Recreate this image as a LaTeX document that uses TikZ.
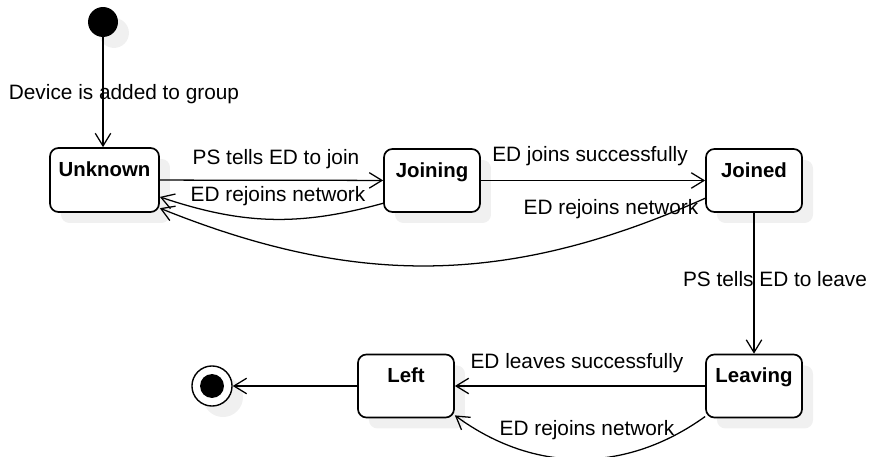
\documentclass[tikz,border=0pt]{standalone}
\usepackage{fontspec}
\setmainfont{Liberation Sans}
\usetikzlibrary{arrows.meta,calc,shadows}
\definecolor{shadowgrey}{RGB}{240,240,240}
\tikzset{
  flow/.style={-{Straight Barb[length=9pt,width=11pt]},line width=0.9pt},
  boxshadow/.style={drop shadow={shadow xshift=7.8pt,shadow yshift=-7.8pt,
                    fill=shadowgrey,opacity=1}},
  phase/.style={draw=black,line width=1.2pt,fill=white,rounded corners=6pt,boxshadow,
                minimum width=68.3pt,inner sep=0pt,text height=20pt,text depth=24.8pt,
                font=\fontsize{14.5}{17}\selectfont\bfseries},
  initdot/.style={circle,fill=black,minimum size=21.3pt,inner sep=0pt,boxshadow},
  endring/.style={circle,draw=black,line width=1pt,fill=white,minimum size=28.5pt,
                  inner sep=0pt,boxshadow},
  enddot/.style={circle,fill=black,minimum size=17pt,inner sep=0pt},
  lab/.style={anchor=base,font=\fontsize{14.8}{17}\selectfont},
}

\begin{document}
\begin{tikzpicture}[x=0.025cm,y=-0.025cm]
  \useasboundingbox (0,0) rectangle (872,457);

  % states
  \node[initdot] (init) at (103,22) {};
  \node[phase,minimum width=77.5pt,text depth=25.5pt] (unknown) at (104.5,180) {Unknown};
  \node[phase] (joining) at (432,180.5) {Joining};
  \node[phase] (joined) at (754,180.5) {Joined};
  \node[phase] (leaving) at (754,386) {Leaving};
  \node[phase] (left) at (406,386) {Left};
  \node[endring] (final) at (212,386) {};
  \node[enddot] (finaldot) at (final) {};

  % transitions
  \draw[flow] (init) -- (init |- unknown.north);
  \draw[flow] (unknown) -- (joining);
  \draw[flow] (joining) -- (joined);
  \draw[flow] (joining.205) to[bend left=17] (unknown.-17);
  \draw[flow] (joined.200) to[bend left=23] (unknown.-27);
  \draw[flow] (joined) -- (leaving);
  \draw[flow] (leaving) -- (left);
  \draw[flow] (leaving.212) to[bend left=36] (left.-31);
  \draw[flow] (left) -- (final);

  % labels
  \node[lab] (addlab) at (124,100) {Device is added to group};
  \node[lab] (joinlab) at (276,165) {PS tells ED to join};
  \node[lab] (rejoinlab) at (278,202) {ED rejoins network};
  \node[lab] (successlab) at (590,162) {ED joins successfully};
  \node[lab] (rejoinfarlab) at (611,215) {ED rejoins network};
  \node[lab] (leavelab) at (775,287) {PS tells ED to leave};
  \node[lab] (leftlab) at (577,368) {ED leaves successfully};
  \node[lab] (rejoinlowlab) at (587,435) {ED rejoins network};
\end{tikzpicture}
\end{document}
